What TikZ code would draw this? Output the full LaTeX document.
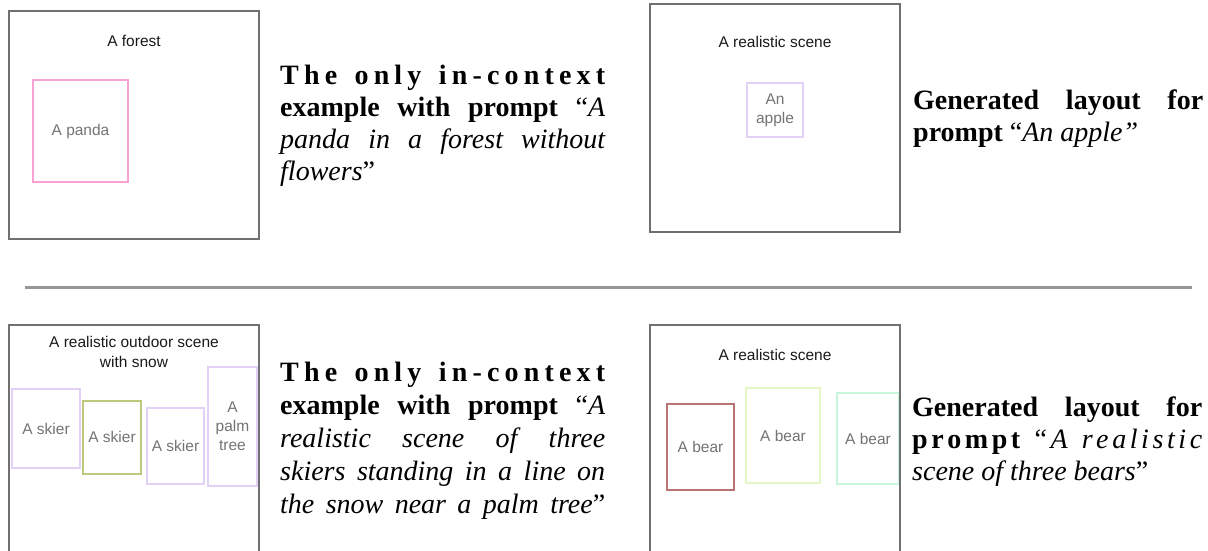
\documentclass[tikz,border=0pt]{standalone}
\usepackage{fontspec}
\setmainfont{Liberation Serif}
\setsansfont{Liberation Sans}
\definecolor{framegray}{RGB}{112,112,112}
\definecolor{sepgray}{RGB}{150,150,150}
\definecolor{pinkc}{RGB}{250,160,210}
\definecolor{lav}{RGB}{226,208,245}
\definecolor{olivec}{RGB}{190,200,125}
\definecolor{brownr}{RGB}{185,115,115}
\definecolor{lgreen}{RGB}{228,246,196}
\definecolor{mintc}{RGB}{200,246,220}
\definecolor{labelgray}{RGB}{115,115,115}
\definecolor{titleblack}{RGB}{25,25,25}
\newcommand\jl[2]{\makebox[#1][s]{#2}}
\begin{document}
\begin{tikzpicture}[x=1pt,y=-1pt,
  frame/.style={draw=framegray, line width=2pt, inner sep=0pt},
  title/.style={font=\sffamily\fontsize{15.5}{19.5}\selectfont, text=titleblack, align=center, inner sep=0pt},
  obj/.style={line width=2pt, inner sep=0pt, font=\sffamily\fontsize{15.5}{19}\selectfont, text=labelgray, align=center},
  para/.style={font=\fontsize{28}{32}\selectfont, anchor=base west, inner sep=0pt},
  sep/.style={draw=sepgray, line width=3pt}]
\useasboundingbox (0,0) rectangle (1208,550);
\clip (0,0) rectangle (1208,550);

% ---- top left example ----
\node[obj, draw=pinkc, minimum width=95.6pt, minimum height=102pt] (panda) at (80.5,131) {A panda};
\node[frame, minimum width=250pt, minimum height=228pt] (f1) at (134,125) {};
\node[title, anchor=base] (t1) at (134,46.5) {A forest};

\node[para] (a1) at (280,84) {\jl{325pt}{\bfseries T\hfil h\hfil e\hfil\ \hfil o\hfil n\hfil l\hfil y\hfil\ \hfil i\hfil n\hfil -\hfil c\hfil o\hfil n\hfil t\hfil e\hfil x\hfil t}};
\node[para] (a2) at (280,116) {\jl{325pt}{\bfseries example with prompt \mdseries “\itshape A}};
\node[para] (a3) at (280,148) {\jl{325pt}{\itshape panda in a forest without}};
\node[para] (a4) at (280,180) {\textit{flowers}”};

% ---- top right generated ----
\node[obj, draw=lav, minimum width=56pt, minimum height=54pt] (apple) at (775,110) {An\\apple};
\node[frame, minimum width=250pt, minimum height=228pt] (f2) at (775,118) {};
\node[title, anchor=base] (t2) at (775,47) {A realistic scene};

\node[para] (b1) at (913,109) {\jl{290pt}{\bfseries Generated layout for}};
\node[para] (b2) at (913,141) {\textbf{prompt} “\textit{An apple”}};

% ---- separator ----
\coordinate (s1) at (25,287);
\coordinate (s2) at (1192,287);
\draw[sep] (s1) -- (s2);

% ---- bottom left example ----
\node[obj, draw=lav, minimum width=68pt, minimum height=79pt] (sk1) at (46,428.5) {A skier};
\node[obj, draw=olivec, minimum width=58pt, minimum height=73pt] (sk2) at (112,437) {A skier};
\node[obj, draw=lav, minimum width=57pt, minimum height=76pt] (sk3) at (175.5,446) {A skier};
\node[obj, draw=lav, minimum width=49pt, minimum height=119pt] (palm) at (232.5,426.5) {A\\palm\\tree};
\node[frame, minimum width=250pt, minimum height=240pt] (f3) at (134,445) {};
\node[title] (t3) at (134,352) {A realistic outdoor scene\\with snow};

\node[para] (c1) at (280,381) {\jl{325pt}{\bfseries T\hfil h\hfil e\hfil\ \hfil o\hfil n\hfil l\hfil y\hfil\ \hfil i\hfil n\hfil -\hfil c\hfil o\hfil n\hfil t\hfil e\hfil x\hfil t}};
\node[para] (c2) at (280,414) {\jl{325pt}{\bfseries example with prompt \mdseries “\itshape A}};
\node[para] (c3) at (280,447) {\jl{325pt}{\itshape realistic scene of three}};
\node[para] (c4) at (280,480) {\jl{325pt}{\itshape skiers standing in a line on}};
\node[para] (c5) at (280,513) {\jl{325pt}{\itshape the snow near a palm tree\upshape ”}};

% ---- bottom right generated ----
\node[obj, draw=brownr, minimum width=67pt, minimum height=86pt] (bear1) at (700.5,447) {A bear};
\node[obj, draw=lgreen, minimum width=74pt, minimum height=95pt] (bear2) at (783,435.5) {A bear};
\node[obj, draw=mintc, minimum width=62pt, minimum height=91pt] (bear3) at (868,438.5) {A bear};
\node[frame, minimum width=250pt, minimum height=240pt] (f4) at (775,445) {};
\node[title, anchor=base] (t4) at (775,360.5) {A realistic scene};

\node[para] (d1) at (912,416) {\jl{290pt}{\bfseries Generated layout for}};
\node[para] (d2) at (912,448) {\jl{290pt}{\bfseries p\hfil r\hfil o\hfil m\hfil p\hfil t\hfil\ \hfil\mdseries “\hfil\itshape A\hfil\ \hfil r\hfil e\hfil a\hfil l\hfil i\hfil s\hfil t\hfil i\hfil c}};
\node[para] (d3) at (912,480) {\textit{scene of three bears}”};
\end{tikzpicture}
\end{document}
